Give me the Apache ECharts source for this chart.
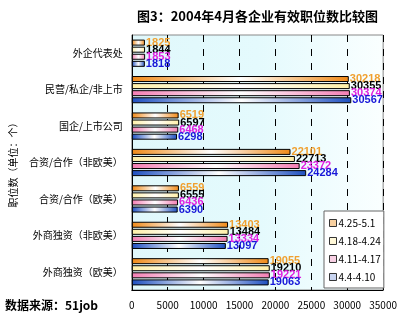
<!DOCTYPE html>
<html><head><meta charset="utf-8">
<script src="https://cdn.jsdelivr.net/npm/echarts@6/dist/echarts.min.js"></script>
<style>html,body{margin:0;padding:0;background:#fff}#c{width:400px;height:322px}</style>
</head><body><div id="c"></div>
<script>
var categories = ['外企代表处','民营/私企/非上市','国企/上市公司','合资/合作（非欧美）','合资/合作（欧美）','外商独资（非欧美）','外商独资（欧美）'];
var seriesNames = ['4.25-5.1','4.18-4.24','4.11-4.17','4.4-4.10'];
var s1 = [1825, 30218, 6519, 22101, 6559, 13403, 19055];
var s2 = [1844, 30355, 6597, 22713, 6555, 13484, 19210];
var s3 = [1853, 30374, 6468, 23372, 6436, 13334, 19221];
var s4 = [1818, 30567, 6298, 24284, 6390, 13097, 19063];
var xTicks = [0,5000,10000,15000,20000,25000,30000,35000];

var barColors = ['#F08A18','#FFF0A8','#F47FB4','#1E4FC0'];
var labelColors = ['#F0A030','#000000','#E020E0','#1818D8'];
var legendFill = ['#F8D0A0','#FFF8D8','#F8D0E4','#C8D4F0'];
var data = [s1,s2,s3,s4];

function grad(c){
  return new echarts.graphic.LinearGradient(0,0,1,0,[
    {offset:0,color:c},{offset:0.5,color:'#FFFFFF'},{offset:1,color:c}]);
}

var chart = echarts.init(document.getElementById('c'), null, {renderer:'canvas'});
var series = seriesNames.map(function(n,i){
  return {
    name:n, type:'bar', data:data[i], barWidth:6, barGap:'18%',
    itemStyle:{color:grad(barColors[i]), borderColor:'#000', borderWidth:1},
    label:{show:true, position:'right', distance:1, color:labelColors[i],
      fontWeight:'bold', fontSize:11, fontFamily:'Liberation Sans'}
  };
});
chart.setOption({
  animation:false,
  backgroundColor:'#fff',
  title:{text:'图3：2004年4月各企业有效职位数比较图', left:132, top:5,
    textStyle:{fontSize:13, fontWeight:'bold', color:'#000', fontFamily:'Noto Sans CJK SC'}},
  grid:{left:118, right:15, top:35, bottom:32, show:true,
    backgroundColor:new echarts.graphic.LinearGradient(0,0,1,0,[
      {offset:0,color:'#E0F8FB'},{offset:0.5,color:'#E4FAFD'},{offset:1,color:'#FAFFFF'}]),
    borderColor:'#888', borderWidth:1},
  legend:{orient:'vertical', left:324, top:211, width:52, height:70,
    backgroundColor:'#fff', borderColor:'#666', borderWidth:1,
    padding:[7,3,6,5], itemGap:8, itemWidth:7, itemHeight:7,
    textStyle:{fontSize:10, color:'#000', fontFamily:'Noto Sans CJK SC', padding:[0,0,0,-3]},
    data:seriesNames.map(function(n,i){return {name:n, icon:'rect',
      itemStyle:{color:legendFill[i], borderColor:'#333', borderWidth:1}};})},
  xAxis:{type:'value', min:xTicks[0], max:xTicks[xTicks.length-1], interval:xTicks[1]-xTicks[0],
    axisLine:{show:true, lineStyle:{color:'#000'}},
    axisTick:{show:false},
    axisLabel:{fontSize:10, color:'#000', fontFamily:'Noto Sans CJK SC', margin:10,
      formatter:function(v){return String(v);}},
    splitLine:{show:true, lineStyle:{color:'#000', type:[7,7], width:1}}},
  yAxis:{type:'category', data:categories, inverse:true,
    name:'职位数（单位：个）', nameLocation:'middle', nameGap:108, nameRotate:90,
    nameTextStyle:{fontSize:10, color:'#000', fontFamily:'Noto Sans CJK SC'},
    axisLine:{show:true, lineStyle:{color:'#000'}},
    axisTick:{show:false},
    axisLabel:{fontSize:10, color:'#000', fontFamily:'Noto Sans CJK SC', margin:9}},
  graphic:[{type:'text', left:5, top:299,
    style:{text:'数据来源：51job', fontSize:12, fontWeight:'bold', fill:'#000', fontFamily:'Noto Sans CJK SC'}}],
  series:series
});
</script></body></html>
